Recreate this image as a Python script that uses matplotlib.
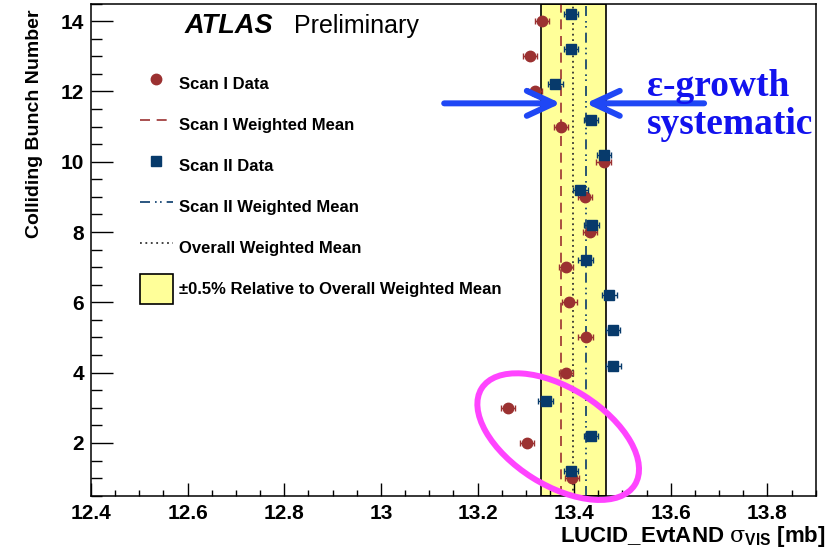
import matplotlib
matplotlib.use("Agg")
import matplotlib.pyplot as plt
import matplotlib.transforms as mtrans
from matplotlib.patches import Ellipse, Patch
from matplotlib.lines import Line2D
from matplotlib.ticker import MultipleLocator

plt.rcParams['font.family'] = ['Liberation Sans', 'DejaVu Sans']
plt.rcParams['mathtext.fontset'] = 'dejavuserif'

# bunch numbers and measured sigma_vis values (mb)
bunch = [1, 2, 3, 4, 5, 6, 7, 8, 9, 10, 11, 12, 13, 14]
scan1 = [13.396, 13.302, 13.263, 13.383, 13.424, 13.390, 13.383,
         13.433, 13.423, 13.461, 13.373, 13.319, 13.309, 13.334]
scan1_err = [0.015, 0.015, 0.015, 0.015, 0.015, 0.015, 0.015,
             0.015, 0.015, 0.015, 0.015, 0.015, 0.015, 0.015]
scan2 = [13.394, 13.435, 13.341, 13.481, 13.480, 13.473, 13.424,
         13.436, 13.413, 13.462, 13.435, 13.361, 13.394, 13.394]
scan2_err = [0.015, 0.015, 0.015, 0.015, 0.015, 0.015, 0.015,
             0.015, 0.015, 0.015, 0.015, 0.015, 0.015, 0.015]
scan2_offset = 0.2

mean1 = 13.3725
mean2 = 13.424
mean_all = 13.3986
band_frac = 0.005

red = '#9b3131'
blue = '#073a6b'

fig = plt.figure(figsize=(8.3, 5.5), dpi=100)
ax = fig.add_axes([91 / 830, 1 - 495.7 / 550, 724.7 / 830, 492.2 / 550])

# +-0.5% band
ax.axvspan(mean_all * (1 - band_frac), mean_all * (1 + band_frac),
           facecolor='#ffff99', edgecolor='black', lw=1.2, zorder=1)
ax.axvline(mean1, color=red, ls=(0, (6, 4)), lw=1.2, zorder=2)
ax.axvline(mean2, color=blue, ls=(0, (6, 3, 1, 2, 1, 3)), lw=1.2, zorder=2)
ax.axvline(mean_all, color='#333333', ls=(0, (1, 2)), lw=1.3, zorder=2)

# data points
ax.errorbar(scan1, bunch, xerr=scan1_err, fmt='o', color=red, ms=7.5,
            ecolor=red, elinewidth=1, capsize=2.5, zorder=4)
ax.errorbar(scan2, [b + scan2_offset for b in bunch], xerr=scan2_err,
            fmt='s', color=blue, ms=7.5, ecolor=blue, elinewidth=1,
            capsize=2.5, zorder=5)

ax.set_xlim(12.4, 13.9)
ax.set_ylim(0.5, 14.5)
ax.xaxis.set_major_locator(MultipleLocator(0.2))
ax.xaxis.set_minor_locator(MultipleLocator(0.05))
ax.yaxis.set_major_locator(MultipleLocator(2))
ax.yaxis.set_minor_locator(MultipleLocator(0.5))
ax.set_xticks([12.4, 12.6, 12.8, 13.0, 13.2, 13.4, 13.6, 13.8])
ax.set_xticklabels(['12.4', '12.6', '12.8', '13', '13.2', '13.4', '13.6', '13.8'])
ax.tick_params(axis='both', which='both', direction='in', labelsize=15,
               width=1)
ax.tick_params(axis='x', which='major', length=9.5, pad=6)
ax.tick_params(axis='x', which='minor', length=4)
ax.tick_params(axis='y', which='major', length=15.5, pad=5)
ax.tick_params(axis='y', which='minor', length=7.7)
for lab in ax.get_xticklabels() + ax.get_yticklabels():
    lab.set_fontweight('bold')
for sp in ax.spines.values():
    sp.set_linewidth(1.1)

ax.set_xlabel(r'LUCID_EvtAND $\mathrm{\sigma}_{\mathregular{VIS}}$ [mb]',
              fontsize=16, fontweight='bold', loc='right')
ax.xaxis.set_label_coords(1.013, -0.058)
ax.set_ylabel('Colliding Bunch Number', fontsize=14, fontweight='bold',
              loc='top')
ax.yaxis.set_label_coords(-0.066, 0.987)

# ATLAS label
ax.text(0.1297, 0.9407, 'ATLAS', transform=ax.transAxes, fontsize=19.5,
        fontweight='bold', fontstyle='italic', va='baseline')
ax.text(0.2800, 0.9407, 'Preliminary', transform=ax.transAxes, fontsize=18,
        va='baseline')

# legend
handles = [
    Line2D([], [], ls='none', marker='o', color=red, ms=7.5),
    Line2D([], [], color=red, ls=(0, (6, 4)), lw=1.2),
    Line2D([], [], ls='none', marker='s', color=blue, ms=7.5),
    Line2D([], [], color=blue, ls=(0, (6, 3, 1, 2, 1, 3)), lw=1.2),
    Line2D([], [], color='#333333', ls=(0, (1, 2)), lw=1.3),
    Patch(facecolor='#ffff99', edgecolor='black', lw=1.2),
]
labels = ['Scan I Data', 'Scan I Weighted Mean', 'Scan II Data',
          'Scan II Weighted Mean', 'Overall Weighted Mean',
          '\u00b10.5% Relative to Overall Weighted Mean']
leg = ax.legend(handles, labels, loc='upper left',
                bbox_to_anchor=(140 / 830, 1 - 69 / 550),
                bbox_transform=fig.transFigure, frameon=False,
                prop={'size': 12, 'weight': 'bold'}, handlelength=1.95,
                handleheight=2.39, handletextpad=0.4, labelspacing=0.66,
                borderpad=0, borderaxespad=0)

# epsilon-growth systematic annotation
arrow_y = 11.66
arrow_kw = dict(arrowstyle='->,head_length=0.97,head_width=0.45',
                color='#1f47f5', lw=4.3, mutation_scale=20,
                shrinkA=0, shrinkB=0)
ax.annotate('', xy=(mean1, arrow_y), xytext=(13.131, arrow_y),
            arrowprops=arrow_kw, zorder=6)
ax.annotate('', xy=(mean2, arrow_y), xytext=(13.669, arrow_y),
            arrowprops=arrow_kw, zorder=6)
ax.text(13.551, 11.86, '\u03b5-growth', fontsize=27, fontweight='bold',
        family=['Liberation Serif', 'DejaVu Serif'], color='#1212ee',
        va='baseline', zorder=7)
ax.text(13.551, 10.80, 'systematic', fontsize=27, fontweight='bold',
        family=['Liberation Serif', 'DejaVu Serif'], color='#1212ee',
        va='baseline', zorder=7)

# magenta ellipse around the early bunches
ell_trans = fig.dpi_scale_trans + mtrans.ScaledTranslation(13.367, 2.18,
                                                           ax.transData)
ax.add_patch(Ellipse((0, 0), 1.81, 0.97, angle=-32.2, fill=False,
                     edgecolor='#ff44ff', lw=4.3, transform=ell_trans,
                     clip_on=False, zorder=8))

fig.savefig('out.png', dpi=100)
